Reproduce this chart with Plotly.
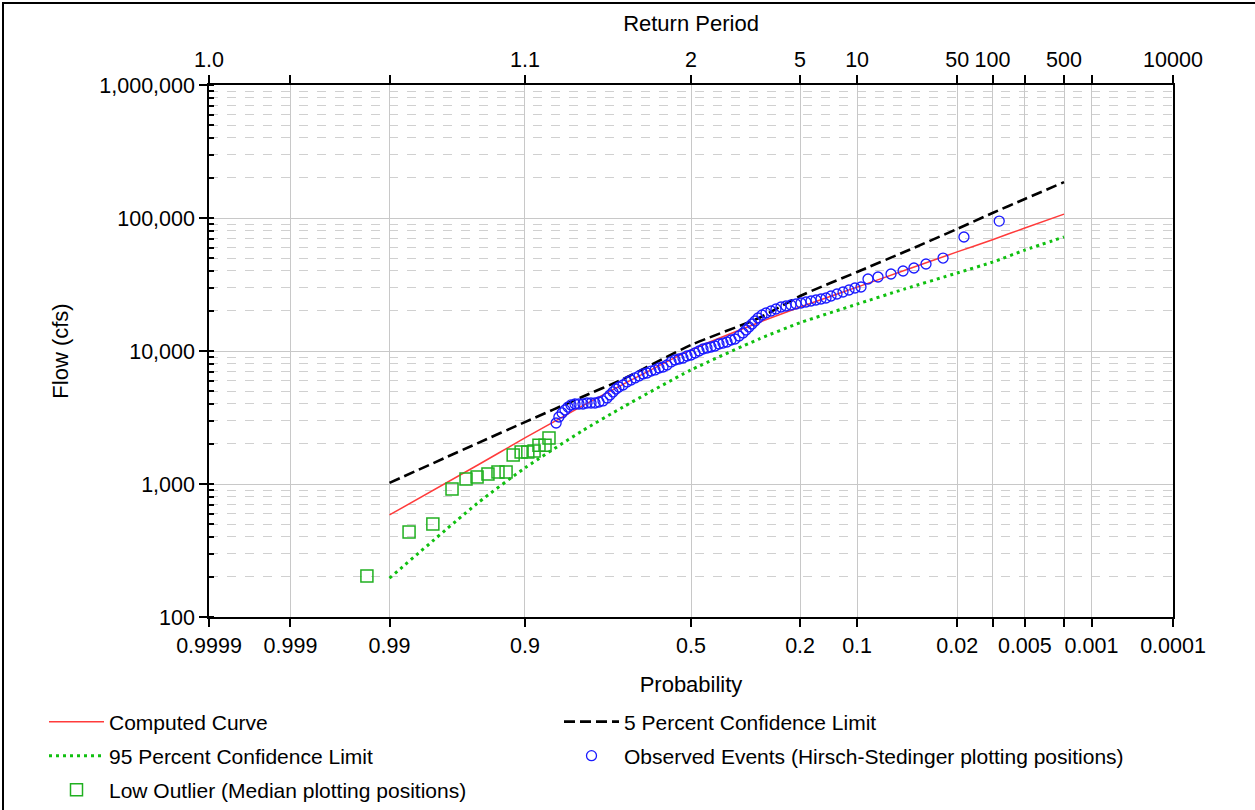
import plotly.graph_objects as go
from statistics import NormalDist

# ---------------- data ----------------
# Frequency curves (exceedance probability -> flow, cfs)
curve_prob = [0.99, 0.95, 0.9, 0.8, 0.7, 0.5, 0.3, 0.2, 0.1, 0.05, 0.02, 0.01, 0.005, 0.002]
computed_flow = [585, 1390, 2220, 3850, 5620, 10190, 16400, 21400, 30200, 40300, 55600, 68700, 84100, 107000]
conf5_flow = [1020, 2030, 2920, 4510, 6150, 11100, 17700, 25900, 39300, 55500, 82700, 109000, 139000, 186000]
conf95_flow = [196, 720, 1320, 2500, 3790, 7200, 12300, 16300, 22500, 29200, 38600, 46600, 57400, 72000]

# Observed events (Hirsch-Stedinger plotting positions)
obs_prob = [0.851, 0.846, 0.840, 0.8345, 0.8287, 0.8228, 0.8146, 0.8063, 0.7977, 0.7889,
            0.7798, 0.7706, 0.7611, 0.7514, 0.7415, 0.734, 0.7264, 0.7186, 0.7108, 0.7001,
            0.6893, 0.6783, 0.6672, 0.6559, 0.6445, 0.6329, 0.6212, 0.6094, 0.5975, 0.5855,
            0.5735, 0.5613, 0.5491, 0.5369, 0.5246, 0.5123, 0.5, 0.4877, 0.4754, 0.4631,
            0.4509, 0.4387, 0.4265, 0.4145, 0.4025, 0.3906, 0.3788, 0.3671, 0.3555, 0.3441,
            0.3356, 0.3273, 0.3189, 0.3107, 0.3026, 0.2919, 0.2814, 0.2685, 0.256, 0.2437,
            0.2318, 0.2202, 0.2089, 0.198, 0.1875, 0.1772, 0.1674, 0.1579, 0.1488, 0.14,
            0.13, 0.1204, 0.1114, 0.1029, 0.0948, 0.086, 0.0745, 0.0614, 0.0509, 0.0427,
            0.0349, 0.0259, 0.0176, 0.0087]
obs_flow = [2875, 3190, 3420, 3600, 3790, 3930, 3995, 3995, 3995, 4065,
            4065, 4065, 4135, 4210, 4435, 4670, 4920, 5180, 5360, 5550,
            5850, 6050, 6270, 6490, 6720, 6830, 7070, 7200, 7450, 7580,
            7850, 8270, 8560, 8710, 8860, 9170, 9330, 9660, 10000, 10350,
            10530, 10720, 10900, 11290, 11480, 11690, 12100, 12310, 12970, 13660,
            14390, 15160, 15960, 16810, 17710, 18650, 19310, 19990, 20700, 21420,
            21800, 22180, 22570, 22960, 23360, 23770, 24180, 24600, 25030, 25910,
            26830, 27770, 28750, 29770, 30290, 34790, 36010, 37930, 39950, 42070,
            45080, 50000, 71940, 94860]

# Low outliers (median plotting positions)
low_prob = [0.9938, 0.9852, 0.9768, 0.9674, 0.9587, 0.9506, 0.9414, 0.9318, 0.9232, 0.915,
            0.905, 0.896, 0.887, 0.8796, 0.870, 0.8634]
low_flow = [203, 435, 500, 916, 1090, 1130, 1190, 1230, 1230, 1650,
            1740, 1740, 1770, 1960, 1960, 2220]

# Axis ticks
prob_ticks = [0.9999, 0.999, 0.99, 0.9, 0.5, 0.2, 0.1, 0.02, 0.01, 0.005, 0.002, 0.001, 0.0001]
prob_labels = ["0.9999", "0.999", "0.99", "0.9", "0.5", "0.2", "0.1", "0.02", "", "0.005", "", "0.001", "0.0001"]
return_labels = ["1.0", "", "", "1.1", "2", "5", "10", "50", "100", "", "500", "", "10000"]
flow_ticks = [100, 1000, 10000, 100000, 1000000]
flow_labels = ["100", "1,000", "10,000", "100,000", "1,000,000"]

# ---------------- probability scale ----------------
nd = NormalDist()


def zscore(probs):
    return [nd.inv_cdf(1 - p) for p in probs]


FONT = "Liberation Sans, Arial, sans-serif"
FS = 21
TICKFS = 21.5
TITLEFS = 22
# figure is a little taller than the 810px window; the extra strip below is clipped
W, H = 1255, 850
L, R, T = 209, 82, 85
PLOT_BOTTOM = 617
B = H - PLOT_BOTTOM
PW, PH = W - L - R, H - T - B


def px(X):
    return (X - L) / PW


def py(Y):
    return (PLOT_BOTTOM - Y) / PH


xr = [zscore([0.9999])[0], zscore([0.0001])[0]]

fig = go.Figure()
fig.add_trace(go.Scatter(x=zscore(curve_prob), y=computed_flow, mode="lines", name="Computed Curve",
                         line=dict(color="#ff3b3b", width=1.5, shape="spline", smoothing=0.6), legend="legend"))
fig.add_trace(go.Scatter(x=zscore(curve_prob), y=conf5_flow, mode="lines", name="5 Percent Confidence Limit",
                         line=dict(color="black", width=2.6, dash="11px,5px", shape="spline", smoothing=0.6),
                         legend="legend2"))
fig.add_trace(go.Scatter(x=zscore(curve_prob), y=conf95_flow, mode="lines", name="95 Percent Confidence Limit",
                         line=dict(color="#10c010", width=3, dash="3px,4px", shape="spline", smoothing=0.6),
                         legend="legend3"))
fig.add_trace(go.Scatter(x=zscore(obs_prob), y=obs_flow, mode="markers",
                         name="Observed Events (Hirsch-Stedinger plotting positions)",
                         marker=dict(symbol="circle-open", size=10, color="#1a1aff", line=dict(width=1.3)),
                         legend="legend4"))
fig.add_trace(go.Scatter(x=zscore(low_prob), y=low_flow, mode="markers",
                         name="Low Outlier (Median plotting positions)",
                         marker=dict(symbol="square-open", size=12, color="#20b020", line=dict(width=1.5)),
                         legend="legend5"))
# invisible trace to anchor top (return period) axis
fig.add_trace(go.Scatter(x=xr, y=[1000, 1000], xaxis="x2", mode="markers",
                         marker=dict(opacity=0), showlegend=False, hoverinfo="skip"))

grid = "#c8c8c8"
ITEMW = 55
TXT_OFF = ITEMW + 11


def leg(text_x, row_y):
    return dict(orientation="h", xanchor="left", yanchor="middle",
                x=px(text_x - TXT_OFF), y=py(row_y), itemwidth=ITEMW,
                bgcolor="rgba(0,0,0,0)", font=dict(size=FS))


fig.update_layout(
    width=W, height=H,
    margin=dict(l=L, r=R, t=T, b=B),
    paper_bgcolor="white", plot_bgcolor="white",
    font=dict(family=FONT, size=FS, color="black"),
    xaxis=dict(range=xr, tickvals=zscore(prob_ticks), ticktext=prob_labels,
               tickfont=dict(size=TICKFS), ticklabelstandoff=0,
               showgrid=True, gridcolor=grid, gridwidth=1,
               ticks="outside", ticklen=8, tickcolor="black", tickwidth=1.5,
               showline=True, linecolor="black", linewidth=1.5, mirror=False,
               zeroline=False, automargin=False,
               title=dict(text="Probability", standoff=20, font=dict(size=TITLEFS))),
    xaxis2=dict(range=xr, overlaying="x", side="top", tickvals=zscore(prob_ticks), ticktext=return_labels,
                tickfont=dict(size=TICKFS),
                showgrid=False, ticks="outside", ticklen=8, tickcolor="black", tickwidth=1.5,
                showline=True, linecolor="black", linewidth=1.5,
                zeroline=False, automargin=False,
                title=dict(text="Return Period", standoff=10, font=dict(size=TITLEFS))),
    yaxis=dict(type="log", range=[2, 6], tickvals=flow_ticks, ticktext=flow_labels,
               tickfont=dict(size=TICKFS),
               showgrid=True, gridcolor=grid, gridwidth=1,
               ticks="outside", ticklen=8, tickcolor="black", tickwidth=1.5,
               showline=True, linecolor="black", linewidth=1.5, mirror=True,
               zeroline=False, automargin=False,
               minor=dict(dtick="D1", ticks="inside", ticklen=5, tickcolor="black",
                          showgrid=True, gridcolor="#d0d0d0", griddash="dash", gridwidth=1),
               title=dict(text="Flow (cfs)", standoff=25, font=dict(size=TITLEFS))),
    legend=leg(110, 722),
    legend2=leg(625, 722),
    legend3=leg(110, 756),
    legend4=leg(625, 756),
    legend5=leg(110, 790),
    shapes=[
        dict(type="line", xref="paper", yref="paper", x0=px(3), x1=px(3), y0=py(2), y1=py(H),
             line=dict(color="black", width=2)),
        dict(type="line", xref="paper", yref="paper", x0=px(2), x1=px(1255), y0=py(3), y1=py(3),
             line=dict(color="black", width=2)),
    ],
)

fig.write_html(
    "out.html",
    config={"displayModeBar": False},
    post_script="document.body.style.margin='0px';document.body.style.overflow='hidden';"
                "document.documentElement.style.overflow='hidden';",
)
